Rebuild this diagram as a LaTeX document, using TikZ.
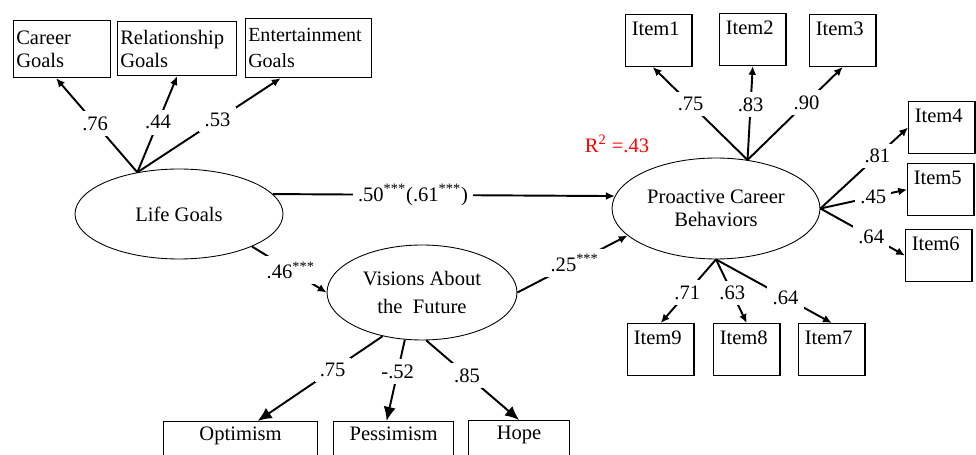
\documentclass[tikz,border=0pt]{standalone}
\usepackage{fontspec}
\setmainfont{Liberation Serif}
\usetikzlibrary{shapes.geometric,arrows.meta}

\tikzset{
  goalbox/.style={draw, line width=0.7pt, anchor=north west, align=left, inner xsep=1.5pt, inner ysep=0pt},
  itembox/.style={draw, line width=0.7pt, anchor=north west, align=left, inner xsep=3.5pt, inner ysep=2pt,
    text width=1.08cm, text height=10pt, text depth=15.5pt},
  facetbox/.style={draw, line width=0.7pt, anchor=north west, align=center, inner ysep=2pt,
    text height=9pt, text depth=25pt},
  latent/.style={ellipse, draw, line width=0.5pt, align=center, inner sep=0pt},
  load/.style={line width=1.1pt, -{Latex[length=5pt,width=4.5pt]}},
  bigload/.style={line width=1.1pt, -{Latex[length=8pt,width=7pt]}},
  coef/.style={fill=white, inner sep=3pt}
}

\begin{document}
\begin{tikzpicture}[x=0.02cm, y=-0.02cm, font=\fontsize{11.7pt}{13pt}\selectfont]
    \useasboundingbox (0,0) rectangle (976,455);
    \clip (0,0) rectangle (976,455);

    \node[goalbox, text width=1.835cm, minimum height=1.14cm] (career) at (13,20) {Career\\Goals};
    \node[goalbox, text width=2.275cm, minimum height=1.08cm] (relat) at (117,21) {Relationship\\Goals};
    \node[goalbox, text width=2.415cm, minimum height=1.18cm, font=\fontsize{11.4pt}{15pt}\selectfont] (entert) at (245,18) {Entertainment\\Goals};

    \node[latent, minimum width=4.16cm, minimum height=1.8cm] (life) at (179,214) {Life Goals};
    \node[latent, minimum width=3.8cm, minimum height=1.9cm] (vision) at (422,292.5) {Visions About\\[3pt]the~~Future};
    \node[latent, minimum width=4.16cm, minimum height=2.02cm] (proact) at (716,208.5) {Proactive Career\\Behaviors};

    \node[facetbox, minimum width=3.08cm] (optim) at (163,421) {Optimism};
    \node[facetbox, minimum width=2.4cm] (pessim) at (333,421) {Pessimism};
    \node[facetbox, minimum width=2.02cm] (hope) at (468,420) {Hope};

    \node[itembox] (item1) at (625,14) {Item1};
    \node[itembox] (item2) at (719,13) {Item2};
    \node[itembox] (item3) at (809,14) {Item3};
    \node[itembox] (item4) at (908,101) {Item4};
    \node[itembox] (item5) at (907,163) {Item5};
    \node[itembox] (item6) at (905,229) {Item6};
    \node[itembox] (item9) at (627,323) {Item9};
    \node[itembox] (item8) at (713,323) {Item8};
    \node[itembox] (item7) at (798,323) {Item7};

    \node[text=red] (rsq) at (617,144) {R\textsuperscript{2} =.43};

    \draw[load] (life.135) -- node[coef, pos=0.52] {.76} ([xshift=-0.12cm]career.south);
    \draw[load] (life.135) -- node[coef, pos=0.52] {.44} (relat.south);
    \draw[load] (life.135) -- node[coef, pos=0.56] {.53} ([xshift=-0.56cm]entert.south);

    \draw[load] (life.12) -- node[coef, pos=0.41] {.50\textsuperscript{***}(.61\textsuperscript{***})} (proact.173);
    \draw[load] (life.336) -- node[coef, pos=0.52] {.46\textsuperscript{***}} (vision.west);
    \draw[load] (vision.east) -- node[coef, pos=0.52] {.25\textsuperscript{***}} (proact.197);

    \draw[bigload] (vision.228) -- node[coef, pos=0.4] {.75} ([xshift=0.34cm]optim.north);
    \draw[bigload] (vision.250) -- node[coef, pos=0.39] {-.52} ([xshift=-0.14cm]pessim.north);
    \draw[bigload] (vision.275) -- node[coef, pos=0.44] {.85} (hope.north);

    \draw[load] (proact.57) -- node[coef, pos=0.6] {.75} ([xshift=-0.12cm]item1.south);
    \draw[load] (proact.57) -- node[coef, pos=0.59] {.83} (item2.south);
    \draw[load] (proact.57) -- node[coef, pos=0.62] {.90} (item3.south);

    \draw[load] (proact.east) -- node[coef, pos=0.65] {.81} (item4.west);
    \draw[load] (proact.east) -- node[coef, pos=0.61] {.45} (item5.west);
    \draw[load] (proact.east) -- node[coef, pos=0.6] {.64} (item6.west);

    \draw[load] (proact.south) -- node[coef, pos=0.52] {.71} (item9.north);
    \draw[load] (proact.south) -- node[coef, pos=0.53] {.63} (item8.north);
    \draw[load] (proact.south) -- node[coef, pos=0.6] {.64} (item7.north);
\end{tikzpicture}
\end{document}
